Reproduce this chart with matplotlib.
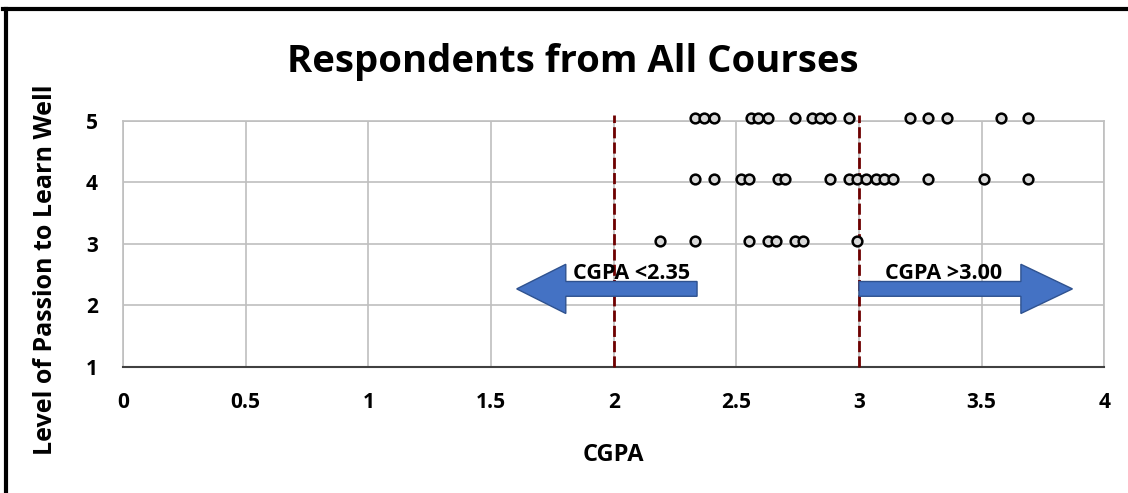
import matplotlib.pyplot as plt
from matplotlib.patches import FancyArrow
from matplotlib.lines import Line2D

plt.rcParams['font.family'] = ['Open Sans', 'DejaVu Sans']
plt.rcParams['font.weight'] = 'bold'

# CGPA values, grouped by passion level
cgpa_5 = [2.33, 2.37, 2.41, 2.56, 2.59, 2.63, 2.74, 2.81, 2.84, 2.88, 2.96,
          3.21, 3.28, 3.36, 3.58, 3.69]
cgpa_4 = [2.33, 2.41, 2.52, 2.55, 2.67, 2.70, 2.88, 2.96, 2.99, 3.03, 3.07,
          3.10, 3.14, 3.28, 3.51, 3.69]
cgpa_3 = [2.19, 2.33, 2.55, 2.63, 2.66, 2.74, 2.77, 2.99]
levels = [5, 4, 3]
cutoffs = [2, 3]
x_ticks = [0, 0.5, 1, 1.5, 2, 2.5, 3, 3.5, 4]
x_tick_labels = ['0', '0.5', '1', '1.5', '2', '2.5', '3', '3.5', '4']
y_ticks = [1, 2, 3, 4, 5]

fig = plt.figure(figsize=(11.28, 4.93), dpi=100)
ax = fig.add_axes([0.109, 0.2556, 0.870, 0.499])

for lvl, xs in zip(levels, [cgpa_5, cgpa_4, cgpa_3]):
    ax.plot(xs, [lvl + 0.05] * len(xs), 'o', ms=7, mfc='#d9d9d9', mec='black',
            mew=1.8, ls='none', zorder=5, clip_on=False)

for c in cutoffs:
    ax.plot([c, c], [1, 5.1], color='#6e0000', lw=2, ls=(0, (4, 1.5)),
            zorder=4, clip_on=False)

# arrows
ax.add_patch(FancyArrow(2.34, 2.27, -0.735, 0, width=0.24, head_width=0.8,
                        head_length=0.2, length_includes_head=True,
                        fc='#4472c4', ec='#2f528f', lw=1, zorder=6))
ax.add_patch(FancyArrow(3.0, 2.27, 0.87, 0, width=0.24, head_width=0.8,
                        head_length=0.21, length_includes_head=True,
                        fc='#4472c4', ec='#2f528f', lw=1, zorder=6))
ax.text(2.075, 2.43, 'CGPA <2.35', ha='center', va='baseline', fontsize=15.5,
        fontweight='bold', zorder=7)
ax.text(3.345, 2.43, 'CGPA >3.00', ha='center', va='baseline', fontsize=15.5,
        fontweight='bold', zorder=7)

ax.set_xlim(0, 4)
ax.set_ylim(1, 5)
ax.set_xticks(x_ticks)
ax.set_xticklabels(x_tick_labels)
ax.set_yticks(y_ticks)
ax.grid(True, color='#bfbfbf', lw=1.2)
ax.set_axisbelow(True)
ax.tick_params(length=0, labelsize=15)
ax.tick_params(axis='x', pad=18)
ax.tick_params(axis='y', pad=18)
for s in ['left', 'top', 'right']:
    ax.spines[s].set_color('#bfbfbf')
    ax.spines[s].set_linewidth(1.2)
ax.spines['bottom'].set_color('#404040')
ax.spines['bottom'].set_linewidth(1.5)

ax.set_xlabel('CGPA', fontsize=17, fontweight='bold')
ax.xaxis.set_label_coords(0.5, -0.31)
ax.set_ylabel('Level of Passion to Learn Well', fontsize=18,
              fontweight='bold')
ax.yaxis.set_label_coords(-0.066, 0.394)
fig.text(0.508, 0.875, 'Respondents from All Courses', ha='center',
         va='center', fontsize=27.5, fontweight='bold')

# outer frame (left and top edges visible)
fig.add_artist(Line2D([0.005, 0.005], [0, 0.982], color='black', lw=3,
                      transform=fig.transFigure))
fig.add_artist(Line2D([0.003, 1], [0.982, 0.982], color='black', lw=3,
                      transform=fig.transFigure))

fig.savefig('out.png', dpi=100)
